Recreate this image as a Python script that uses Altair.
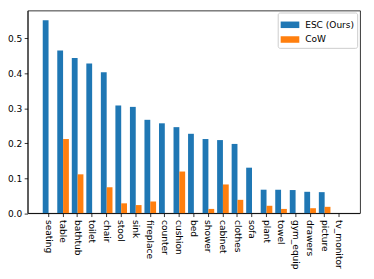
import altair as alt
import pandas as pd

categories = ["seating", "table", "bathtub", "toilet", "chair", "stool", "sink",
              "fireplace", "counter", "cushion", "bed", "shower", "cabinet",
              "clothes", "sofa", "plant", "towel", "gym_equip", "drawers",
              "picture", "tv_monitor"]
esc_values = [0.552, 0.465, 0.444, 0.428, 0.403, 0.308, 0.304, 0.267, 0.257,
              0.246, 0.227, 0.212, 0.209, 0.198, 0.130, 0.067, 0.067, 0.066,
              0.061, 0.060, 0.0]
cow_values = [0.0, 0.212, 0.111, 0.0, 0.074, 0.028, 0.023, 0.033, 0.0, 0.119,
              0.0, 0.012, 0.082, 0.038, 0.0, 0.021, 0.012, 0.0, 0.014, 0.018, 0.0]
series = ["ESC (Ours)", "CoW"]
colors = ["#1f77b4", "#ff7f0e"]
y_ticks = [0.0, 0.1, 0.2, 0.3, 0.4, 0.5]

rows = []
for c, e, w in zip(categories, esc_values, cow_values):
    rows.append({"category": c, "series": series[0], "value": e})
    rows.append({"category": c, "series": series[1], "value": w})
df = pd.DataFrame(rows)

FONT = "DejaVu Sans"
FS = 9.2

chart = alt.Chart(df).mark_bar().encode(
    x=alt.X("category:N", sort=categories, title=None,
            scale=alt.Scale(paddingInner=0.2, paddingOuter=1.0, range=[0.6, 338.4]),
            axis=alt.Axis(labelAngle=90, labelAlign="left", labelBaseline="middle",
                          labelPadding=3, tickSize=3.5, labelFont=FONT,
                          labelFontSize=FS, labelColor="black", tickColor="black",
                          domainColor="black", tickWidth=0.8, domainWidth=0.8,
                          grid=False)),
    xOffset=alt.XOffset("series:N", sort=series,
                        scale=alt.Scale(paddingInner=0, paddingOuter=0)),
    y=alt.Y("value:Q", title=None,
            scale=alt.Scale(domain=[0, 0.5796], nice=False, zero=True),
            axis=alt.Axis(values=y_ticks, format=".1f", tickSize=3.5,
                          labelPadding=2.5, labelFont=FONT, labelFontSize=FS,
                          labelColor="black", tickColor="black", domainColor="black",
                          tickWidth=0.8, domainWidth=0.8, grid=False)),
    color=alt.Color("series:N", sort=series,
                    scale=alt.Scale(domain=series, range=colors),
                    legend=alt.Legend(title=None, orient="none", legendX=255, legendY=2,
                                      fillColor="white", strokeColor="#cccccc",
                                      cornerRadius=2, padding=3,
                                      symbolType="M-1,-0.35L1,-0.35L1,0.35L-1,0.35Z",
                                      symbolSize=361, symbolStrokeWidth=0,
                                      labelFont=FONT, labelFontSize=FS,
                                      labelColor="black", rowPadding=-6,
                                      labelOffset=6)),
).properties(
    width=339, height=206.5,
    autosize=alt.AutoSizeParams(type="none"),
    padding={"left": 20, "top": 0, "right": 6, "bottom": 62},
).configure_view(
    stroke="black", strokeWidth=0.8
)

chart.save("out.html", embed_options={"renderer": "svg", "actions": False})
